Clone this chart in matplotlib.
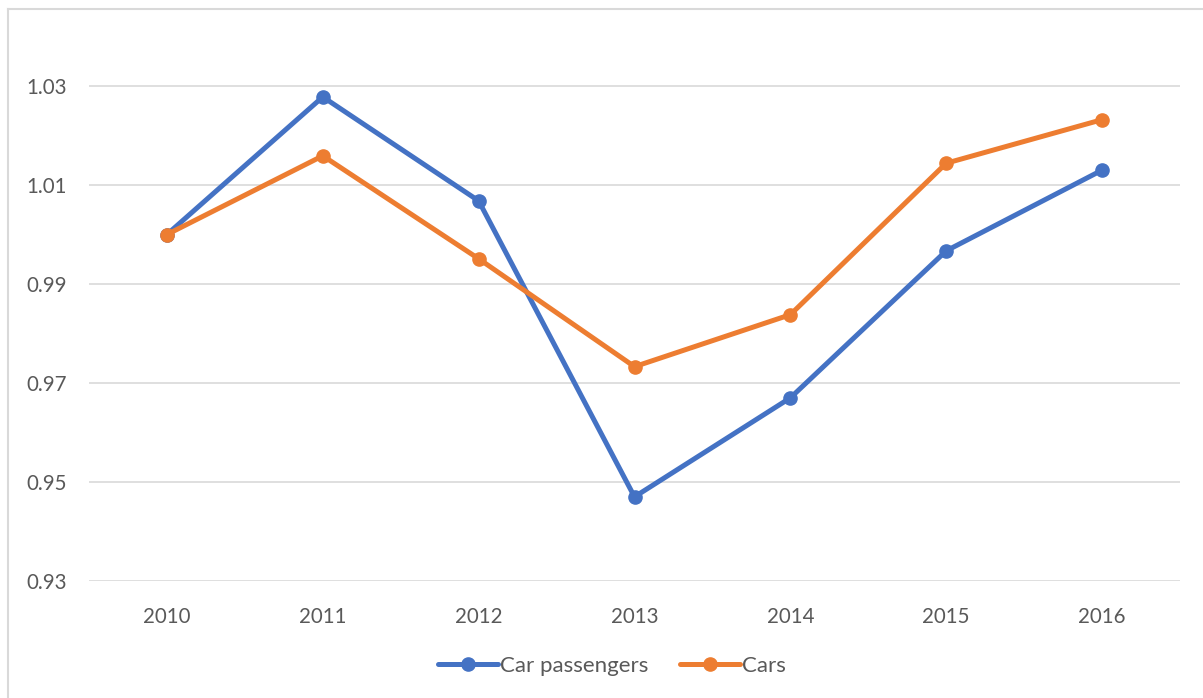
import matplotlib
matplotlib.use('Agg')
import matplotlib.pyplot as plt
from matplotlib.lines import Line2D

years = ['2010', '2011', '2012', '2013', '2014', '2015', '2016']
car_passengers = [1.000, 1.0278, 1.0068, 0.9470, 0.9670, 0.9967, 1.0130]
cars = [1.000, 1.0159, 0.9951, 0.9733, 0.9838, 1.0144, 1.0232]
y_ticks = [0.93, 0.95, 0.97, 0.99, 1.01, 1.03]

blue = '#4472C4'
orange = '#ED7D31'
grey_text = '#595959'
grid_col = '#D9D9D9'

plt.rcParams['font.family'] = ['Lato', 'DejaVu Sans']

W, H = 1203, 698
fig = plt.figure(figsize=(W / 100, H / 100), dpi=100)
ax = fig.add_axes([89 / W, 1 - 581 / H, (1180 - 89) / W, (581 - 36.5) / H])

x = range(len(years))
ax.plot(x, car_passengers, color=blue, lw=3.6, marker='o', ms=9.5,
        label='Car passengers', solid_capstyle='round', zorder=3)
ax.plot(x, cars, color=orange, lw=3.6, marker='o', ms=9.5,
        label='Cars', solid_capstyle='round', zorder=3)

ax.set_xlim(-0.5, len(years) - 0.5)
ax.set_ylim(0.93, 1.04)
ax.set_yticks(y_ticks)
ax.set_yticklabels([f'{v:.2f}' for v in y_ticks])
ax.set_xticks(list(x))
ax.set_xticklabels(years)
ax.grid(axis='y', color=grid_col, lw=1.2)
ax.set_axisbelow(True)
for s in ax.spines.values():
    s.set_visible(False)
ax.tick_params(axis='both', length=0, labelsize=14.8, colors=grey_text)
ax.tick_params(axis='y', pad=16)
ax.tick_params(axis='x', pad=19)

leg = fig.legend(loc='center', bbox_to_anchor=(612 / W, 1 - 666 / H), ncol=2,
                 frameon=False, fontsize=16, handlelength=2.7,
                 handletextpad=0.1, columnspacing=1.4)
for t in leg.get_texts():
    t.set_color(grey_text)

# chart area border (cropped on right/bottom)
fig.add_artist(Line2D([7.5 / W, 7.5 / W], [0, 1 - 8.5 / H], transform=fig.transFigure,
                      color=grid_col, lw=1.5))
fig.add_artist(Line2D([7.5 / W, 1], [1 - 8.5 / H, 1 - 8.5 / H], transform=fig.transFigure,
                      color=grid_col, lw=1.5))

fig.savefig('out.png', dpi=100)
